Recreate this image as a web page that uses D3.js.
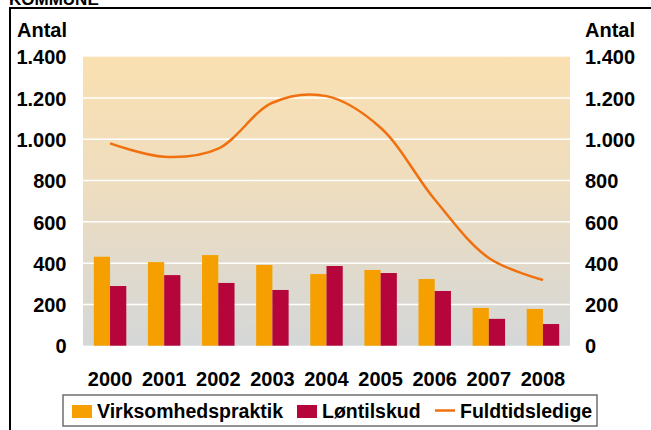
<!DOCTYPE html>
<html><head><meta charset="utf-8">
<script src="https://cdn.jsdelivr.net/npm/d3@7"></script>
<style>
html,body{margin:0;padding:0;background:#fff;}
svg{display:block;}
text{font-family:"Liberation Sans",Arial,sans-serif;font-weight:bold;fill:#000;}
</style></head>
<body>
<script>
const years = ["2000","2001","2002","2003","2004","2005","2006","2007","2008"];
const virksomhedspraktik = [431, 405, 439, 391, 347, 367, 323, 183, 178];
const loentilskud = [289, 342, 304, 270, 386, 352, 265, 130, 105];
const fuldtidsledige = [980, 915, 955, 1177, 1209, 1056, 708, 425, 318];
const yTicks = [0, 200, 400, 600, 800, 1000, 1200, 1400];
const seriesNames = ["Virksomhedspraktik", "Løntilskud", "Fuldtidsledige"];
const colors = {bar1:"#F5A000", bar2:"#B5053A", line:"#F0700F"};

const W = 651, H = 430;
const svg = d3.select("body").append("svg").attr("width", W).attr("height", H);
const fmt = v => d3.format(",")(v).replace(/,/g, ".");

const plot = {l:83, r:570, t:56.7, b:345.7};
const x = d3.scaleBand().domain(years).range([plot.l, plot.r]).padding(0);
const x1 = d3.scaleBand().domain(["a","b"]).range([x.bandwidth()*0.2, x.bandwidth()*0.8]).padding(0);
const y = d3.scaleLinear().domain([0, 1400]).range([plot.b, plot.t]);

// frame
svg.append("text").attr("x", 9).attr("y", 5).style("font-size","17px").text("KOMMUNE");
svg.append("line").attr("x1", 9).attr("x2", W).attr("y1", 8).attr("y2", 8).attr("stroke","#000").attr("stroke-width",2);
svg.append("line").attr("x1", 10).attr("x2", 10).attr("y1", 7).attr("y2", H).attr("stroke","#000").attr("stroke-width",2);

// background gradient
const defs = svg.append("defs");
const grad = defs.append("linearGradient").attr("id","bg").attr("x1",0).attr("x2",0).attr("y1",0).attr("y2",1);
grad.append("stop").attr("offset","0%").attr("stop-color","#FAE0B1");
grad.append("stop").attr("offset","45%").attr("stop-color","#EEDDBF");
grad.append("stop").attr("offset","100%").attr("stop-color","#D4D7D8");
svg.append("rect").attr("x", plot.l).attr("y", y(1400)).attr("width", plot.r-plot.l).attr("height", y(0)-y(1400)).attr("fill","url(#bg)");

// gridlines
svg.append("g").selectAll("line").data(yTicks.filter(d => d>0 && d<1400)).join("line")
  .attr("x1", plot.l).attr("x2", plot.r).attr("y1", d=>y(d)).attr("y2", d=>y(d))
  .attr("stroke","#fff").attr("stroke-width",1.5);

const fs = "20px";
// axes labels
const yl = d3.axisLeft(y).tickValues(yTicks).tickFormat(fmt).tickSize(0).tickPadding(0);
const gL = svg.append("g").attr("transform",`translate(66.5,0)`).call(yl);
gL.select(".domain").remove();
gL.selectAll("text").style("font-size",fs).attr("font-family",null).attr("dy","0.36em");
const yr = d3.axisRight(y).tickValues(yTicks).tickFormat(fmt).tickSize(0).tickPadding(0);
const gR = svg.append("g").attr("transform",`translate(585,0)`).call(yr);
gR.select(".domain").remove();
gR.selectAll("text").style("font-size",fs).attr("font-family",null).attr("dy","0.36em");
svg.append("text").attr("x",17).attr("y",36.5).style("font-size",fs).text("Antal");
svg.append("text").attr("x",585).attr("y",36.5).style("font-size",fs).text("Antal");

const xa = d3.axisBottom(x).tickSize(0).tickPadding(0);
const gX = svg.append("g").attr("transform",`translate(0,371.5)`).call(xa);
gX.select(".domain").remove();
gX.selectAll("text").style("font-size",fs).attr("font-family",null).attr("dy","0.71em");

// bars
const gb = svg.append("g");
gb.selectAll("rect.a").data(years).join("rect").attr("class","a")
  .attr("x", d => x(d)+x1("a")).attr("width", x1.bandwidth())
  .attr("y", (d,i) => y(virksomhedspraktik[i])).attr("height", (d,i) => y(0)-y(virksomhedspraktik[i]))
  .attr("fill", colors.bar1);
gb.selectAll("rect.b").data(years).join("rect").attr("class","b")
  .attr("x", d => x(d)+x1("b")).attr("width", x1.bandwidth())
  .attr("y", (d,i) => y(loentilskud[i])).attr("height", (d,i) => y(0)-y(loentilskud[i]))
  .attr("fill", colors.bar2);

// line
const line = d3.line().x((d,i) => x(years[i]) + x.bandwidth()/2).y(d => y(d)).curve(d3.curveCatmullRom.alpha(0.5));
svg.append("path").datum(fuldtidsledige).attr("d", line).attr("fill","none")
  .attr("stroke", colors.line).attr("stroke-width", 2.5);

// legend
const lfs = "19.5px";
const lg = svg.append("g");
lg.append("rect").attr("x",63).attr("y",395).attr("width",534).attr("height",31).attr("fill","#fff").attr("stroke","#6e6e6e").attr("stroke-width",1.5);
lg.append("rect").attr("x",72).attr("y",405).attr("width",20).attr("height",13).attr("fill",colors.bar1);
lg.append("text").attr("x",97).attr("y",418).style("font-size",lfs).text(seriesNames[0]);
lg.append("rect").attr("x",297).attr("y",405).attr("width",20).attr("height",13).attr("fill",colors.bar2);
lg.append("text").attr("x",322).attr("y",418).style("font-size",lfs).text(seriesNames[1]);
lg.append("line").attr("x1",435).attr("x2",455).attr("y1",410.5).attr("y2",410.5).attr("stroke",colors.line).attr("stroke-width",2.5);
lg.append("text").attr("x",460).attr("y",418).style("font-size",lfs).text(seriesNames[2]);
</script>
</body></html>
